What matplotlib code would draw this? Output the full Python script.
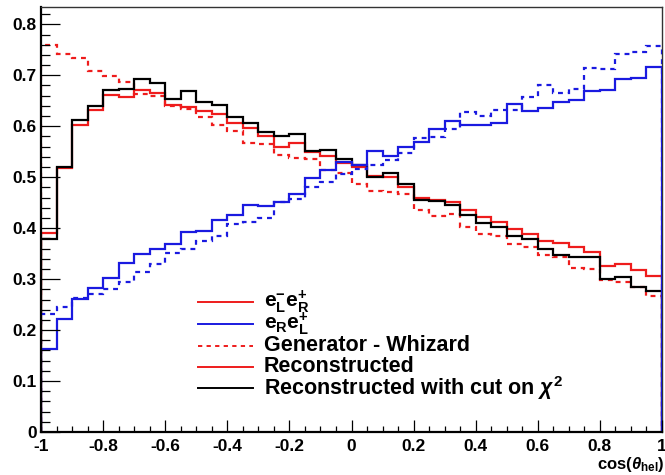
import numpy as np
import matplotlib
matplotlib.use('Agg')
import matplotlib.pyplot as plt
from matplotlib.ticker import MultipleLocator, FuncFormatter

# 40 bins in cos(theta_hel) from -1 to 1
bin_edges = np.linspace(-1, 1, 41)

# e-_L e+_R
gen_LR = [0.759, 0.742, 0.733, 0.709, 0.699, 0.686, 0.663, 0.660, 0.640, 0.633,
          0.619, 0.602, 0.591, 0.568, 0.565, 0.544, 0.538, 0.536, 0.514, 0.508,
          0.487, 0.472, 0.470, 0.468, 0.436, 0.423, 0.428, 0.402, 0.389, 0.385,
          0.369, 0.364, 0.347, 0.343, 0.321, 0.320, 0.298, 0.295, 0.284, 0.266]
reco_LR = [0.390, 0.518, 0.602, 0.631, 0.661, 0.657, 0.672, 0.665, 0.642, 0.638,
           0.630, 0.625, 0.607, 0.597, 0.580, 0.560, 0.568, 0.549, 0.541, 0.527,
           0.521, 0.502, 0.501, 0.480, 0.460, 0.455, 0.451, 0.436, 0.421, 0.413,
           0.398, 0.389, 0.375, 0.370, 0.364, 0.354, 0.326, 0.330, 0.318, 0.306]
cut_LR = [0.379, 0.521, 0.612, 0.640, 0.671, 0.673, 0.692, 0.684, 0.653, 0.669,
          0.648, 0.642, 0.619, 0.606, 0.588, 0.580, 0.585, 0.552, 0.553, 0.535,
          0.523, 0.501, 0.508, 0.487, 0.455, 0.453, 0.446, 0.425, 0.410, 0.403,
          0.385, 0.378, 0.360, 0.347, 0.344, 0.343, 0.300, 0.304, 0.285, 0.277]

# e-_R e+_L
gen_RL = [0.231, 0.246, 0.262, 0.270, 0.280, 0.294, 0.313, 0.329, 0.351, 0.360,
          0.375, 0.385, 0.408, 0.412, 0.419, 0.451, 0.457, 0.480, 0.490, 0.506,
          0.516, 0.524, 0.534, 0.547, 0.576, 0.579, 0.595, 0.627, 0.621, 0.632,
          0.632, 0.658, 0.681, 0.665, 0.674, 0.714, 0.712, 0.742, 0.745, 0.758]
reco_RL = [0.162, 0.222, 0.261, 0.282, 0.303, 0.332, 0.349, 0.360, 0.368, 0.392,
           0.395, 0.417, 0.425, 0.445, 0.443, 0.452, 0.468, 0.498, 0.514, 0.530,
           0.524, 0.552, 0.542, 0.560, 0.570, 0.594, 0.611, 0.602, 0.603, 0.606,
           0.644, 0.629, 0.635, 0.648, 0.651, 0.669, 0.672, 0.693, 0.695, 0.716]

legend_labels = [r'$\mathrm{e^{-}_{L}e^{+}_{R}}$',
                 r'$\mathrm{e_{R}e^{+}_{L}}$',
                 'Generator - Whizard',
                 'Reconstructed',
                 r'Reconstructed with cut on $\chi^{2}$']

RED = '#ee1c1c'
BLUE = '#1a1ae0'

plt.rcParams['font.family'] = ['Liberation Sans', 'DejaVu Sans']
plt.rcParams['font.weight'] = 'bold'
plt.rcParams['mathtext.fontset'] = 'custom'
plt.rcParams['mathtext.rm'] = 'Liberation Sans:bold'
plt.rcParams['mathtext.it'] = 'Liberation Sans:italic'
plt.rcParams['mathtext.bf'] = 'Liberation Sans:bold'


def draw_hist(ax, values, color, dashed=False):
    ax.stairs(values, bin_edges, baseline=0, color=color, linewidth=1.6,
              linestyle=(0, (2.2, 2.2)) if dashed else '-')


def main():
    fig = plt.figure(figsize=(6.65, 4.75), dpi=100)
    ax = fig.add_axes([41 / 665, 1 - 432 / 475, 621 / 665, 425 / 475])

    draw_hist(ax, gen_LR, RED, dashed=True)
    draw_hist(ax, reco_LR, RED)
    draw_hist(ax, cut_LR, 'black')
    draw_hist(ax, gen_RL, BLUE, dashed=True)
    draw_hist(ax, reco_RL, BLUE)

    ax.set_xlim(-1, 1)
    ax.set_ylim(0, 0.834)

    ax.xaxis.set_major_locator(MultipleLocator(0.2))
    ax.xaxis.set_minor_locator(MultipleLocator(0.05))
    ax.yaxis.set_major_locator(MultipleLocator(0.1))
    ax.yaxis.set_minor_locator(MultipleLocator(0.02))
    fmt = FuncFormatter(lambda v, p: '%g' % round(v, 3))
    ax.xaxis.set_major_formatter(fmt)
    ax.yaxis.set_major_formatter(fmt)

    ax.tick_params(axis='y', which='major', direction='in', length=13.5, width=0.9, pad=3,
                   labelsize=12.5)
    ax.tick_params(axis='y', which='minor', direction='in', length=6.7, width=0.9)
    ax.tick_params(axis='x', which='major', direction='in', length=8.4, width=0.9, pad=5,
                   labelsize=12.5)
    ax.tick_params(axis='x', which='minor', direction='in', length=4.1, width=0.9)
    for lab in ax.get_xticklabels() + ax.get_yticklabels():
        lab.set_fontweight('bold')
    for name, sp in ax.spines.items():
        sp.set_linewidth(1.0)
        sp.set_color('#333333')
    ax.spines['left'].set_linewidth(1.6)
    ax.spines['left'].set_color('black')
    ax.spines['bottom'].set_linewidth(1.6)
    ax.spines['bottom'].set_color('black')
    # histogram edges at cos = 1 are drawn over the right frame
    ax.spines['right'].set_zorder(0.5)

    fig.text(664 / 665, 1 - 464 / 475, r'cos($\theta_{\mathrm{hel}}$)',
             ha='right', va='center', fontsize=12, fontweight='bold')

    # legend, drawn by hand so rows are evenly spaced
    styles = [(RED, '-'), (BLUE, '-'), (RED, (0, (2.2, 2.2))), (RED, '-'), ('black', '-')]
    rows_y = [302.0, 324.0, 345.7, 366.7, 387.7]
    for (col, ls), lab, yy in zip(styles, legend_labels, rows_y):
        yf = 1 - yy / 475
        fig.add_artist(plt.Line2D([198 / 665, 253 / 665], [yf, yf], color=col,
                                  linestyle=ls, linewidth=1.4))
        fs = 15 if lab.startswith('$') else 15.5
        fig.text(264 / 665, yf, lab, ha='left', va='center', fontsize=fs,
                 fontweight='bold')

    plt.savefig('out.png', dpi=100)


if __name__ == '__main__':
    main()
